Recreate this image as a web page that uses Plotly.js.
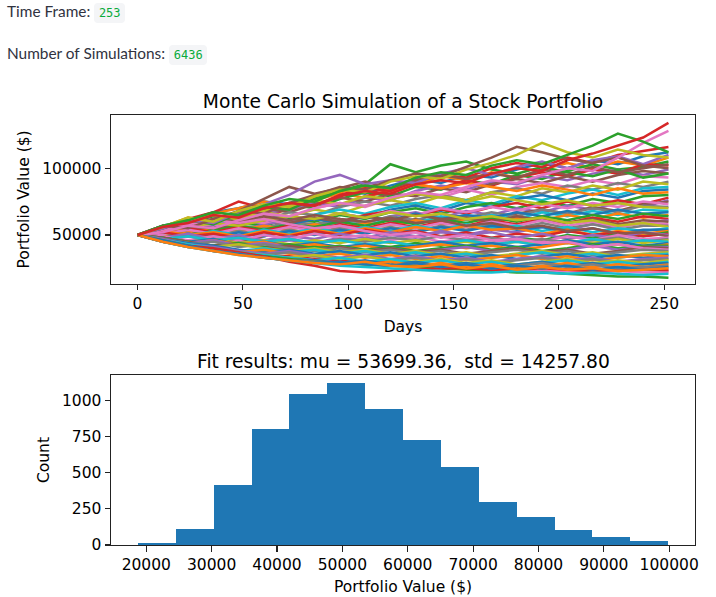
<!DOCTYPE html>
<html>
<head>
<meta charset="utf-8">
<script src="https://cdn.plot.ly/plotly-3.0.1.min.js"></script>
<style>
  html, body { margin:0; padding:0; background:#fff; }
  body { width:716px; height:597px; overflow:hidden; position:relative; }
  #chart { position:absolute; left:0; top:0; width:716px; height:597px; }
  .st { position:absolute; left:7px; font-family:"Lato","Noto Sans",sans-serif; font-size:15.4px; line-height:20px; color:#31333f; white-space:nowrap; z-index:2; }
  .code { display:inline-block; font-family:"DejaVu Sans Mono",monospace; font-size:12px; line-height:20px; padding:0 4.7px; background:#f4f5f7; color:#09ab3b; border-radius:4px; }
</style>
</head>
<body>
<div id="chart"></div>
<div class="st" id="line1" style="top:0.8px"></div>
<div class="st" id="line2" style="top:43.1px"></div>
<script>
// ---------- header values ----------
const timeFrame = 253;
const numSimulations = 6436;

// ---------- simulation paths (values in $1000, read every 12 days) ----------
const days = [0,12,24,36,48,60,72,84,96,108,120,132,144,156,168,180,192,204,216,228,240,252];
const pathValuesK = [
  [50,57,61,67,70,75,73,79,84,81,87,92,89,95,93,99,104,100,106,103,109,112],
  [50,56,63,60,66,71,69,76,81,78,84,88,94,91,97,93,99,104,100,105,102,108],
  [50,54,59,64,61,68,73,70,77,82,79,86,84,91,88,95,92,98,103,99,101,105],
  [50,57,55,61,66,63,70,75,72,79,83,88,85,91,87,93,97,94,99,96,103,102],
  [50,53,58,62,59,66,69,74,71,78,76,83,87,84,90,88,94,91,96,99,95,99],
  [50,56,60,58,64,70,67,73,78,75,81,79,85,82,88,92,89,94,90,95,98,96],
  [50,52,57,62,60,65,63,70,74,71,77,81,78,84,80,86,89,86,91,88,94,93],
  [50,55,53,59,63,61,67,65,71,75,72,77,80,76,82,85,81,87,84,89,86,90],
  [50,54,59,57,62,67,64,69,66,72,76,73,79,76,82,79,85,82,87,84,90,88],
  [50,52,56,60,57,62,60,65,69,66,71,74,70,76,73,79,76,81,84,80,85,86],
  [50,55,52,57,61,58,64,61,66,63,69,72,68,74,71,77,80,76,81,78,83,84],
  [50,56,61,66,70,75,72,78,82,86,83,88,85,89,86,83,87,84,80,85,81,82],
  [50,53,51,56,59,57,62,60,65,62,67,70,66,71,74,70,75,72,77,74,79,80],
  [50,52,56,53,58,61,58,63,60,65,68,64,69,66,71,74,70,75,72,76,73,78],
  [50,54,51,55,53,58,61,57,62,59,64,67,63,68,65,70,67,72,69,74,71,76],
  [50,47,44,47,45,49,53,51,56,54,59,62,59,64,61,66,69,66,71,68,73,75],
  [50,55,58,56,61,59,64,62,66,63,68,65,70,67,71,68,73,70,74,71,75,73],
  [50,52,55,53,57,55,60,58,62,59,64,61,66,63,67,64,69,66,70,67,72,71],
  [50,56,60,65,62,68,72,76,73,79,77,81,78,75,79,76,73,76,72,74,71,70],
  [50,51,54,52,56,54,58,55,60,57,62,59,64,61,65,62,67,64,68,65,69,68],
  [50,53,57,55,59,62,58,62,59,64,61,66,62,65,63,67,64,68,65,69,66,67],
  [50,49,52,55,53,57,54,58,55,59,57,61,58,62,60,63,61,65,62,66,63,65],
  [50,53,50,54,57,54,58,56,60,57,61,58,62,59,63,60,64,61,65,62,66,64],
  [50,52,55,52,56,53,57,54,58,55,59,56,60,57,61,58,62,59,63,60,64,62],
  [50,47,44,42,45,43,46,44,48,46,50,48,52,50,54,52,56,54,58,56,59,61],
  [50,54,57,55,59,62,59,63,60,64,61,65,62,63,60,64,61,59,62,58,61,60],
  [50,51,54,51,55,52,56,53,57,54,58,55,59,56,60,57,61,57,60,56,59,58],
  [50,48,51,49,53,50,54,51,55,52,56,53,57,54,58,55,59,55,58,54,57,57],
  [50,53,56,59,57,61,64,62,66,63,67,64,66,62,64,61,63,59,61,57,59,56],
  [50,52,49,53,50,54,51,55,52,56,53,57,54,58,55,57,53,56,52,55,53,55],
  [50,48,51,48,52,49,53,50,54,51,55,52,56,53,57,54,56,52,55,51,54,54],
  [50,53,50,52,49,53,50,54,51,55,52,56,53,57,54,55,51,54,50,53,51,53],
  [50,47,45,42,44,41,39,42,40,43,41,44,42,46,44,48,46,50,48,51,49,52],
  [50,52,49,51,48,52,49,53,50,54,51,53,49,52,48,51,49,53,50,52,49,51],
  [50,48,51,47,50,46,49,47,51,48,52,49,53,50,52,48,51,47,50,48,52,50],
  [50,55,58,62,60,64,61,65,62,60,63,59,61,57,59,55,57,53,55,51,52,49],
  [50,49,46,49,46,50,47,51,48,50,46,49,45,48,44,47,45,49,46,50,47,48],
  [50,47,49,46,48,45,47,44,47,45,48,46,49,46,48,45,47,44,46,48,45,47],
  [50,48,45,47,44,46,43,46,44,47,44,46,43,45,42,45,43,46,44,47,44,46],
  [50,47,49,46,48,45,47,44,46,43,45,42,44,46,43,45,42,44,47,44,46,45],
  [50,48,45,47,43,45,42,44,41,43,40,42,45,42,44,41,43,46,43,45,42,44],
  [50,47,44,46,43,45,41,43,40,42,39,41,43,40,42,39,41,44,41,43,40,43],
  [50,48,45,42,44,41,43,40,42,39,41,38,40,42,39,41,38,40,43,40,42,42],
  [50,47,43,40,38,35,34,32,31,29,30,28,27,28,26,25,26,24,25,23,24,23],
  [50,47,44,46,42,44,41,39,41,38,40,37,39,41,38,40,37,39,42,39,41,41],
  [50,48,45,42,43,40,42,39,41,38,40,37,39,36,38,40,37,39,36,38,41,40],
  [50,54,58,61,59,62,58,55,57,53,50,52,48,50,46,47,44,45,41,43,40,39],
  [50,46,43,45,41,43,40,38,40,37,39,36,38,35,37,39,36,38,35,37,39,38],
  [50,47,44,41,43,40,38,40,37,39,36,38,35,37,34,36,38,35,37,34,36,37],
  [50,46,43,41,38,40,37,39,36,38,35,37,34,36,33,35,37,34,36,33,35,36],
  [50,47,44,42,39,37,39,36,38,35,37,34,36,33,35,32,34,36,33,35,33,35],
  [50,46,42,40,37,39,36,34,36,33,35,32,34,31,33,35,32,34,31,33,35,34],
  [50,55,61,58,66,71,69,77,83,88,103,97,102,105,99,96,101,97,94,99,93,96],
  [50,56,62,67,75,70,74,72,80,85,83,90,95,93,100,104,101,108,104,110,113,116],
  [50,47,43,41,38,36,38,35,33,35,32,34,31,33,30,32,34,31,33,30,32,33],
  [50,55,61,59,68,77,86,81,85,90,85,91,95,92,96,93,99,95,101,97,100,103],
  [50,46,42,39,37,34,33,31,29,28,27,27,25,26,24,24,23,23,22,23,22,22],
  [50,46,42,40,37,35,37,34,32,34,31,33,30,32,29,31,33,30,32,29,31,32],
  [50,45,42,39,37,35,33,35,32,34,31,30,32,29,31,28,30,32,29,31,29,31],
  [50,46,43,40,37,35,33,31,33,30,32,29,31,28,30,27,29,31,28,30,28,30],
  [50,45,41,39,36,34,32,31,29,31,28,30,27,29,26,28,30,27,29,26,28,29],
  [50,46,42,38,36,33,32,30,29,28,30,27,29,26,28,25,27,29,26,28,26,28],
  [50,46,42,39,36,34,32,30,29,28,27,26,25,24,23,22,22,21,20,19,19,18],
  [50,45,42,40,37,34,30,27,23,22,23,24,25,25,24,24,25,24,23,24,25,24],
  [50,55,61,59,67,73,80,90,95,88,91,89,96,100,95,101,105,100,106,109,103,110],
  [50,57,55,62,68,66,74,80,86,84,91,96,94,101,108,116,112,107,104,108,102,100],
  [50,52,57,55,61,66,64,70,74,72,78,82,80,86,91,89,95,100,98,108,119,128],
  [50,45,41,38,36,33,31,30,28,29,27,29,26,28,25,27,29,26,28,25,26,27],
  [50,56,63,60,68,73,71,79,84,82,90,94,92,99,104,110,119,112,108,114,110,108],
  [50,45,41,38,35,33,31,29,27,26,25,24,23,22,22,23,22,21,22,21,20,21],
  [50,46,42,38,36,33,31,29,30,28,27,29,26,28,25,27,25,27,24,26,24,26],
  [50,45,41,38,35,33,31,29,28,30,27,26,28,25,27,24,26,24,25,23,24,25],
  [50,57,61,67,65,72,77,75,83,87,85,93,97,95,102,106,103,110,117,126,120,112],
  [50,56,59,65,63,70,74,72,79,83,81,88,91,89,96,100,98,106,111,117,123,134]
];

// ---------- histogram of portfolio values ----------
const binEdges = [18717,24512,30307,36103,41898,47693,53488,59283,65079,70874,76669,82464,88259,94055,99850];
const binCounts = [12,109,414,801,1044,1120,940,727,539,296,192,102,58,25];
const fitMu = "53699.36";
const fitStd = "14257.80";

// ---------- tick labels ----------
const dayTicks = [0,50,100,150,200,250];
const valueTicks = [50000,100000];
const histXTicks = [20000,30000,40000,50000,60000,70000,80000,90000,100000];
const countTicks = [0,250,500,750,1000];

// ---------- header ----------
document.getElementById('line1').innerHTML = 'Time Frame: <span class="code">' + timeFrame + '</span>';
document.getElementById('line2').innerHTML = 'Number of Simulations: <span class="code">' + numSimulations + '</span>';

// ---------- traces ----------
const tab10 = ['#1f77b4','#ff7f0e','#2ca02c','#d62728','#9467bd','#8c564b','#e377c2','#7f7f7f','#bcbd22','#17becf'];
const traces = [];
pathValuesK.forEach(function(p, k){
  traces.push({
    x: days, y: p.map(function(v){ return v * 1000; }),
    type: 'scatter', mode: 'lines',
    line: {color: tab10[k % 10], width: 2.5},
    xaxis: 'x', yaxis: 'y', hoverinfo: 'skip', showlegend: false
  });
});
const centers = binCounts.map(function(c, i){ return (binEdges[i] + binEdges[i+1]) / 2; });
const widths = binCounts.map(function(c, i){ return binEdges[i+1] - binEdges[i]; });
traces.push({
  type: 'bar', x: centers, y: binCounts, width: widths,
  marker: {color: '#1f77b4', line: {width: 0}},
  xaxis: 'x2', yaxis: 'y2', hoverinfo: 'skip', showlegend: false
});

const FONT = 'DejaVu Sans, Verdana, sans-serif';
const tickFont = {family: FONT, size: 15.5, color: '#000'};
const titleFont = {family: FONT, size: 15.5, color: '#000'};
function axisBase(){
  return {
    showgrid: false, zeroline: false,
    showline: true, mirror: true, linecolor: '#222', linewidth: 1.1,
    ticks: 'outside', ticklen: 5.4, tickwidth: 1.1, tickcolor: '#222',
    tickfont: tickFont, tickformat: 'd', fixedrange: true
  };
}
const layout = {
  width: 716, height: 597,
  margin: {l: 111, r: 21, t: 115, b: 52, pad: 0},
  paper_bgcolor: '#fff', plot_bgcolor: '#fff',
  showlegend: false, bargap: 0,
  title: {
    text: 'Monte Carlo Simulation of a Stock Portfolio',
    font: {family: FONT, size: 18.7, color: '#000'},
    xref: 'paper', x: 0.5, xanchor: 'center',
    yref: 'container', y: 0.8185, yanchor: 'bottom', pad: {t: 0, b: 0}
  },
  xaxis: Object.assign(axisBase(), {
    domain: [0, 1], anchor: 'y', range: [-12.6, 264.6], tickvals: dayTicks,
    title: {text: 'Days', font: titleFont, standoff: 9}
  }),
  yaxis: Object.assign(axisBase(), {
    domain: [0.607, 1], anchor: 'x', range: [13300, 139900], tickvals: valueTicks,
    title: {text: 'Portfolio Value ($)', font: titleFont, standoff: 8}
  }),
  xaxis2: Object.assign(axisBase(), {
    domain: [0, 1], anchor: 'y2', range: [14600, 103950], tickvals: histXTicks,
    title: {text: 'Portfolio Value ($)', font: titleFont, standoff: 8}
  }),
  yaxis2: Object.assign(axisBase(), {
    domain: [0, 0.3953], anchor: 'x2', range: [0, 1178], tickvals: countTicks,
    title: {text: 'Count', font: titleFont, standoff: 8}
  }),
  annotations: [{
    text: 'Fit results: mu = ' + fitMu + ',\u00a0 std = ' + fitStd,
    font: {family: FONT, size: 18.7, color: '#000'},
    xref: 'paper', yref: 'paper', x: 0.5, y: 0.398,
    xanchor: 'center', yanchor: 'bottom', showarrow: false
  }]
};
Plotly.newPlot('chart', traces, layout, {staticPlot: true, displayModeBar: false});
</script>
</body>
</html>
